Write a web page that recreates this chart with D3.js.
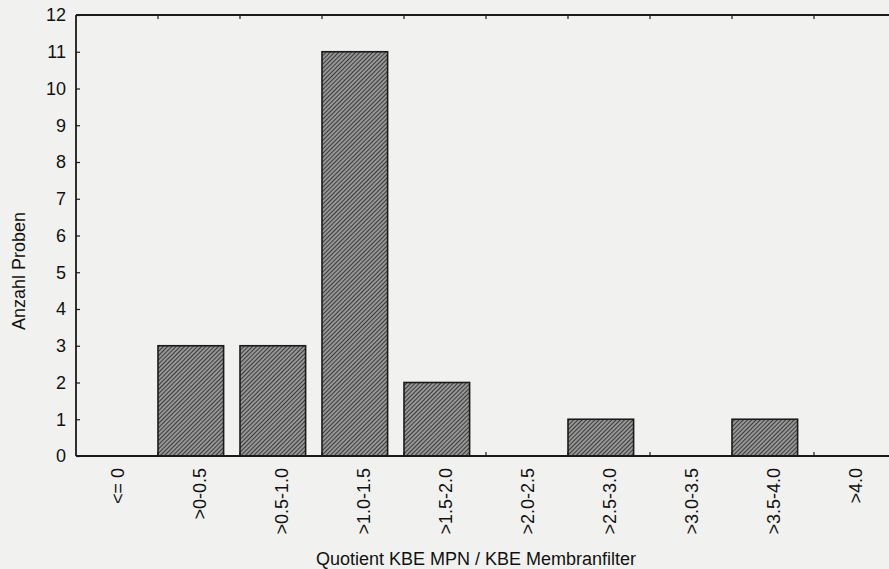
<!DOCTYPE html>
<html>
<head>
<meta charset="utf-8">
<script src="https://cdn.jsdelivr.net/npm/d3@7"></script>
<style>
  body { margin: 0; background: #f1f1ef; }
  svg { display: block; font-family: "Liberation Sans", Arial, sans-serif; }
</style>
</head>
<body>
<div id="chart"></div>
<script>
// categories (Quotient KBE MPN / KBE Membranfilter)
const categories = ["<= 0", ">0-0.5", ">0.5-1.0", ">1.0-1.5", ">1.5-2.0",
    ">2.0-2.5", ">2.5-3.0", ">3.0-3.5", ">3.5-4.0", ">4.0"];
// Anzahl Proben
const counts = [0, 3, 3, 11, 2, 0, 1, 0, 1, 0];
const yTicks = d3.range(0, 13);

const width = 889, height = 569;
const margin = {top: 15, right: -7, bottom: 113, left: 76};

const data = categories.map((c, i) => ({cat: c, value: counts[i]}));

const svg = d3.select("#chart").append("svg")
    .attr("width", width)
    .attr("height", height);

// hatch pattern for bars
const defs = svg.append("defs");
const pat = defs.append("pattern")
    .attr("id", "hatch")
    .attr("patternUnits", "userSpaceOnUse")
    .attr("width", 3)
    .attr("height", 3)
    .attr("patternTransform", "rotate(45)");
pat.append("rect").attr("width", 3).attr("height", 3).attr("fill", "#969696");
pat.append("line")
    .attr("x1", 0).attr("y1", 0).attr("x2", 0).attr("y2", 3)
    .attr("stroke", "#232323").attr("stroke-width", 1.6);

const x = d3.scaleBand()
    .domain(categories)
    .range([margin.left, width - margin.right])
    .padding(0);

// bars sit at the left of each band, like the original
const barWidth = x.bandwidth() * 0.8;

const y = d3.scaleLinear()
    .domain([0, 12])
    .range([height - margin.bottom, margin.top]);

// bars
svg.append("g")
    .selectAll("rect")
    .data(data.filter(d => d.value > 0))
    .join("rect")
    .attr("x", d => x(d.cat))
    .attr("y", d => y(d.value))
    .attr("width", barWidth)
    .attr("height", d => y(0) - y(d.value))
    .attr("fill", "url(#hatch)")
    .attr("stroke", "#1a1a1a")
    .attr("stroke-width", 1.6);

// band boundaries for x ticks
const bounds = categories.slice(1).map(c => x(c));

// frame: left axis, baseline, top line
const frame = svg.append("g").attr("stroke", "#1a1a1a").attr("stroke-width", 1.8);
frame.append("line")
    .attr("x1", margin.left).attr("x2", margin.left)
    .attr("y1", y(12)).attr("y2", y(0));
frame.append("line")
    .attr("x1", margin.left).attr("x2", width)
    .attr("y1", y(0)).attr("y2", y(0));
frame.append("line")
    .attr("x1", margin.left).attr("x2", width)
    .attr("y1", y(12)).attr("y2", y(12));

// inward ticks on top and bottom
svg.append("g").attr("stroke", "#1a1a1a").attr("stroke-width", 1.2)
    .selectAll("line")
    .data(bounds.flatMap(b => [{b, top: true}, {b, top: false}]))
    .join("line")
    .attr("x1", d => d.b).attr("x2", d => d.b)
    .attr("y1", d => d.top ? y(12) : y(0))
    .attr("y2", d => d.top ? y(12) + 4 : y(0) - 4);

// y axis with inward ticks
const yAxis = svg.append("g")
    .attr("transform", `translate(${margin.left},0)`)
    .call(d3.axisRight(y).tickValues(yTicks).tickSize(4).tickFormat(d3.format("d")));
yAxis.select(".domain").remove();
yAxis.selectAll(".tick line").attr("stroke", "#1a1a1a").attr("stroke-width", 1.2);
yAxis.selectAll(".tick text")
    .attr("x", -10)
    .attr("text-anchor", "end")
    .attr("font-size", 18)
    .attr("fill", "#111");

// category labels, rotated
svg.append("g")
    .selectAll("text")
    .data(categories)
    .join("text")
    .attr("transform", d => `translate(${x(d) + x.bandwidth() / 2 + 7},${y(0) + 12}) rotate(-90)`)
    .attr("text-anchor", "end")
    .attr("font-size", 18)
    .attr("fill", "#111")
    .text(d => d);

// axis titles
svg.append("text")
    .attr("x", 476)
    .attr("y", 565)
    .attr("text-anchor", "middle")
    .attr("font-size", 18)
    .attr("fill", "#111")
    .text("Quotient KBE MPN / KBE Membranfilter");

svg.append("text")
    .attr("transform", `translate(25,271) rotate(-90)`)
    .attr("text-anchor", "middle")
    .attr("font-size", 18)
    .attr("fill", "#111")
    .text("Anzahl Proben");
</script>
</body>
</html>
